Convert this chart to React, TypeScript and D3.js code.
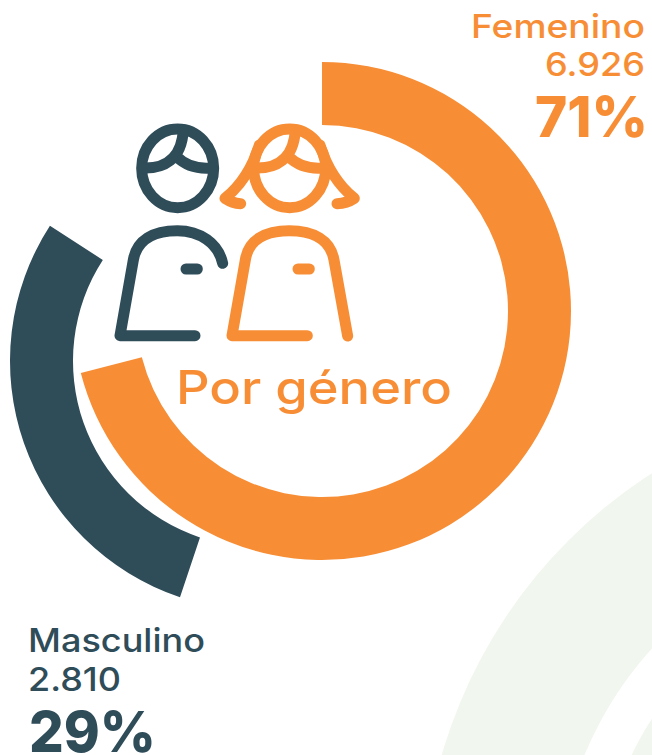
import React from "react";
import * as d3 from "d3";

const categories = ["Femenino", "Masculino"];
const counts = ["6.926", "2.810"];
const shares = [71, 29];
const title = "Por género";
const orange = "#f78e36";
const dark = "#2f4c59";
const pale = "#f1f6ef";
const FONT = "Inter, 'Open Sans', sans-serif";

const frac = d3.scaleLinear().domain([0, 100]).range([0, 2 * Math.PI]);
const arc = d3.arc();
const darkShift = (57.1 * Math.PI) / 180;

const orangeD = arc({ innerRadius: 186, outerRadius: 249, startAngle: 0, endAngle: frac(shares[0]) });
const darkD = arc({ innerRadius: 186, outerRadius: 249, startAngle: frac(shares[0]) - darkShift, endAngle: frac(shares[0] + shares[1]) - darkShift });
const bg1 = arc({ innerRadius: 365, outerRadius: 500, startAngle: -Math.PI, endAngle: 0 });
const bg2 = arc({ innerRadius: 200, outerRadius: 322, startAngle: -Math.PI, endAngle: 0 });

function Label({ x, y, w, size, weight, fill, children }: any) {
  return (
    <text x={x} y={y} textLength={w} lengthAdjust="spacingAndGlyphs" fontSize={size} fontWeight={weight} fill={fill} fontFamily={FONT}>
      {children}
    </text>
  );
}

export default function App() {
  return (
    <svg width={652} height={755} style={{ position: "absolute", left: 0, top: 0, background: "#fff" }}>
      <g fill={pale}>
        <path d={bg1!} transform="translate(922,894)" />
        <path d={bg2!} transform="translate(922,894)" />
      </g>
      <path d={darkD!} fill={dark} transform="translate(259,361)" />
      <path d={orangeD!} fill={orange} transform="translate(322,311)" />

      <g transform="translate(100,110) scale(0.33333)" fill="none" strokeWidth={33} strokeLinecap="round" strokeLinejoin="round">
        <g stroke={dark}>
          <ellipse cx={233} cy={175} rx={108} ry={118} />
          <path d="M130,174 C190,176 245,150 250,60 M230,140 C255,165 290,178 335,174" />
          <path d="M368,460 C355,400 300,362 232,362 C160,362 110,390 100,450 L60,677 L285,677" />
          <path d="M258,477 L292,477" />
        </g>
        <g stroke={orange}>
          <ellipse cx={569} cy={175} rx={108} ry={118} />
          <path d="M466,174 C526,176 581,150 586,60 M566,140 C591,165 626,178 671,174" />
          <path d="M478,105 C455,180 418,230 375,265 C390,275 405,280 422,281" />
          <path d="M660,105 C683,180 720,230 763,265 C748,275 733,280 711,281" />
          <path d="M622,677 L396,677 L436,450 C445,390 495,362 568,362 C640,362 692,390 702,450 L743,678" />
          <path d="M594,477 L628,477" />
        </g>
      </g>

      <Label x={471} y={38} w={174} size={33} weight={500} fill={orange}>{categories[0]}</Label>
      <Label x={545} y={76} w={100} size={33} weight={500} fill={orange}>{counts[0]}</Label>
      <Label x={535} y={137} w={113} size={57} weight={800} fill={orange}>{shares[0]}%</Label>
      <Label x={28} y={652} w={177} size={33} weight={500} fill={dark}>{categories[1]}</Label>
      <Label x={28} y={691} w={93} size={33} weight={500} fill={dark}>{counts[1]}</Label>
      <Label x={29} y={752} w={127} size={57} weight={800} fill={dark}>{shares[1]}%</Label>
      <Label x={176} y={404} w={276} size={46} weight={500} fill={orange}>{title}</Label>
    </svg>
  );
}
